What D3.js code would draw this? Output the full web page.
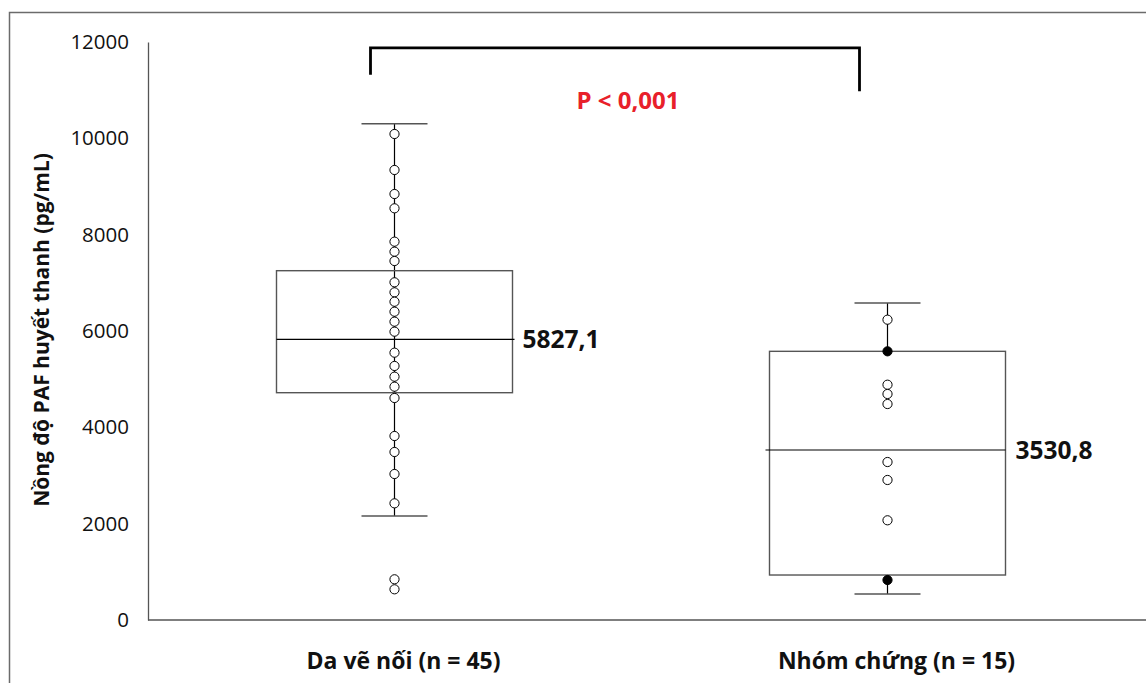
<!DOCTYPE html>
<html>
<head>
<meta charset="utf-8">
<script src="https://cdn.jsdelivr.net/npm/d3@7/dist/d3.min.js"></script>
<style>
  html, body { margin: 0; padding: 0; background: #fff; }
  svg { display: block; }
  text { font-family: "Open Sans", "Noto Sans", sans-serif; }
</style>
</head>
<body>
<svg id="chart" width="1146" height="683"></svg>
<script>
// Group labels
const categories = ["Da vẽ nối (n = 45)", "Nhóm chứng (n = 15)"];

// Box-plot summaries per group (pg/mL)
const q1 = [4719, 934];
const q3 = [7252, 5578];
const whiskerLow = [2159, 540];
const whiskerHigh = [10304, 6581];
const median = [5827.1, 3530.8];
const medianLabels = ["5827,1", "3530,8"];
// whether the stem runs through the box
const stemThroughBox = [true, false];

// Individual observations
const pointsDaVeNoi = [10090, 9343, 8844, 8547, 7855, 7647, 7453, 7011, 6803, 6608,
  6401, 6194, 5986, 5550, 5274, 5052, 4844, 4609, 3820, 3488, 3031, 2422, 845, 637];
const pointsNhomChung = [6235, 5578, 4885, 4692, 4484, 3280, 2907, 2070, 830];
const filledNhomChung = [false, true, false, false, false, false, false, false, true];

// Y axis ticks
const yTicks = [0, 2000, 4000, 6000, 8000, 10000, 12000];

// Significance bracket (value units) and its label
const bracketTop = 11880;
const bracketLegEnds = [11320, 10980];
const pLabel = "P < 0,001";
const yTitle = "Nồng độ PAF huyết thanh (pg/mL)";

const svg = d3.select("#chart");

const x = d3.scaleBand().domain(categories).range([148, 1134]).padding(0);
const y = d3.scaleLinear().domain([0, 12000]).range([620, 42]);
const cx = c => x(c) + x.bandwidth() / 2;

const boxW = 236, capW = 66, r = 4.6;

// Outer frame (top and left edges)
svg.append("path")
  .attr("d", "M9.5,683 V12.5 H1146")
  .attr("fill", "none").attr("stroke", "#6b6b6b").attr("stroke-width", 1.5);

// Y axis
const yAxis = svg.append("g")
  .attr("transform", "translate(148,0)")
  .call(d3.axisLeft(y).tickValues(yTicks).tickSize(0).tickPadding(19).tickFormat(d3.format("d")));
yAxis.select(".domain").attr("stroke", "#555").attr("stroke-width", 1.3);
yAxis.selectAll("text").attr("font-size", 20.5).attr("fill", "#111")
  .attr("font-family", "'Open Sans', sans-serif");

// X axis baseline
svg.append("line")
  .attr("x1", 148).attr("x2", 1146)
  .attr("y1", y(0)).attr("y2", y(0))
  .attr("stroke", "#555").attr("stroke-width", 1.3);

// Category labels
svg.selectAll(".cat").data(categories).join("text")
  .attr("class", "cat")
  .attr("x", d => cx(d) + 9).attr("y", 661)
  .attr("dy", "0.35em")
  .attr("text-anchor", "middle")
  .attr("font-size", 23).attr("font-weight", 700).attr("fill", "#111")
  .text(d => d);

// Y title
svg.append("text")
  .attr("transform", "translate(42,330) rotate(-90)")
  .attr("text-anchor", "middle").attr("dy", "0.35em")
  .attr("font-size", 21).attr("font-weight", 700).attr("fill", "#111")
  .text(yTitle);

// Boxes
const groups = categories.map((c, i) => ({
  c, i, q1: q1[i], q3: q3[i], lo: whiskerLow[i], hi: whiskerHigh[i],
  med: median[i], lab: medianLabels[i], through: stemThroughBox[i]
}));

const g = svg.selectAll(".grp").data(groups).join("g").attr("class", "grp");

g.each(function(d) {
  const sel = d3.select(this);
  const xc = cx(d.c);
  // stems
  if (d.through) {
    sel.append("line").attr("x1", xc).attr("x2", xc)
      .attr("y1", y(d.hi)).attr("y2", y(d.lo))
      .attr("stroke", "#000").attr("stroke-width", 1.2);
  } else {
    sel.append("line").attr("x1", xc).attr("x2", xc)
      .attr("y1", y(d.hi)).attr("y2", y(d.q3))
      .attr("stroke", "#000").attr("stroke-width", 1.2);
    sel.append("line").attr("x1", xc).attr("x2", xc)
      .attr("y1", y(d.q1)).attr("y2", y(d.lo))
      .attr("stroke", "#000").attr("stroke-width", 1.2);
  }
  // caps
  [d.hi, d.lo].forEach(v => {
    sel.append("line")
      .attr("x1", xc - capW / 2).attr("x2", xc + capW / 2)
      .attr("y1", y(v)).attr("y2", y(v))
      .attr("stroke", "#555").attr("stroke-width", 1.6);
  });
  // box
  sel.append("rect")
    .attr("x", xc - boxW / 2).attr("width", boxW)
    .attr("y", y(d.q3)).attr("height", y(d.q1) - y(d.q3))
    .attr("fill", "none").attr("stroke", "#555").attr("stroke-width", 1.4);
  // median
  sel.append("line")
    .attr("x1", xc - boxW / 2 + (d.i === 0 ? 0 : -4))
    .attr("x2", xc + boxW / 2 + (d.i === 0 ? 2 : 0))
    .attr("y1", y(d.med)).attr("y2", y(d.med))
    .attr("stroke", "#000").attr("stroke-width", 1.1);
  sel.append("text")
    .attr("x", xc + boxW / 2 + 10).attr("y", y(d.med))
    .attr("dy", "0.35em")
    .attr("font-size", 24.5).attr("font-weight", 700).attr("fill", "#111")
    .text(d.lab);
});

// Points
const pts = [
  ...pointsDaVeNoi.map(v => ({ c: categories[0], v, filled: false })),
  ...pointsNhomChung.map((v, i) => ({ c: categories[1], v, filled: filledNhomChung[i] }))
];
svg.selectAll(".pt").data(pts).join("circle")
  .attr("class", "pt")
  .attr("cx", d => cx(d.c)).attr("cy", d => y(d.v)).attr("r", r)
  .attr("fill", d => d.filled ? "#000" : "#fff")
  .attr("stroke", "#000").attr("stroke-width", 1);

// Significance bracket
const bx1 = cx(categories[0]) - 24, bx2 = cx(categories[1]) - 28;
svg.append("path")
  .attr("d", `M${bx1},${y(bracketLegEnds[0])} V${y(bracketTop)} H${bx2} V${y(bracketLegEnds[1])}`)
  .attr("fill", "none").attr("stroke", "#000").attr("stroke-width", 2.8);

svg.append("text")
  .attr("x", (bx1 + bx2) / 2 + 13).attr("y", 101)
  .attr("dy", "0.35em").attr("text-anchor", "middle")
  .attr("font-size", 24).attr("font-weight", 700).attr("fill", "#e8202a")
  .text(pLabel);
</script>
</body>
</html>
